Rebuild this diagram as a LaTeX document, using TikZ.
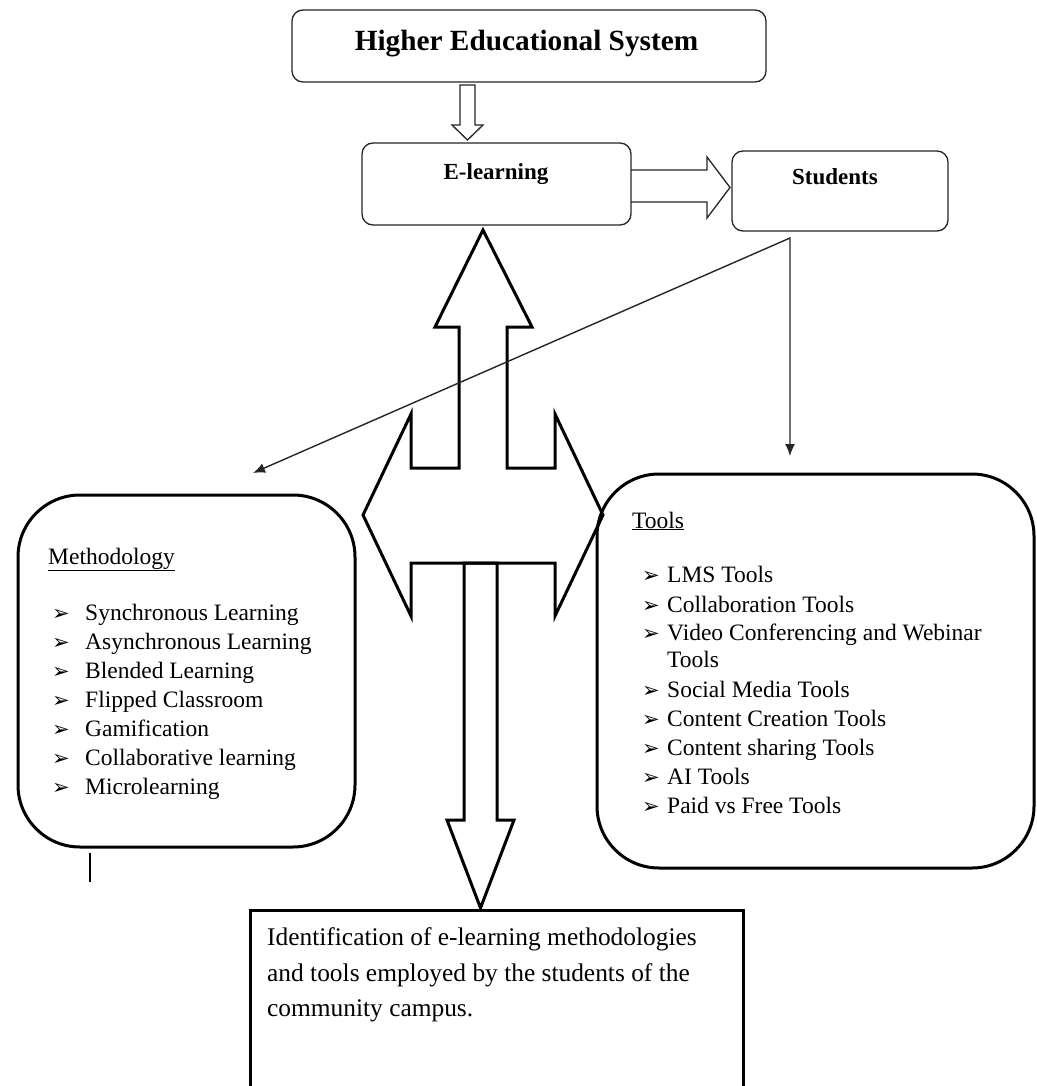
\documentclass[tikz,border=0pt]{standalone}
\usepackage{fontspec}
\setmainfont{Liberation Serif}
\newfontfamily\bulfont{DejaVu Sans}
\usetikzlibrary{arrows.meta}
\newcommand{\bulmark}{{\bulfont\fontsize{21}{21}\selectfont ➢}}
\begin{document}
\begin{tikzpicture}[x=1pt,y=-1pt,
  thinbox/.style={draw=black!85, line width=1.3pt, rounded corners=11pt, inner sep=0pt},
  bigbox/.style={draw=black, line width=3pt, rounded corners=62pt, inner sep=0pt},
  sqbox/.style={draw=black, line width=3pt, inner sep=0pt},
  blockthick/.style={draw=black, line width=3pt, line join=miter},
  blockthin/.style={draw=black!85, line width=1.3pt, line join=miter},
  conn/.style={draw=black!85, line width=1.4pt, line join=miter},
  txt/.style={anchor=base west, inner sep=0pt, font=\fontsize{23.5}{29}\selectfont},
  bigtxt/.style={anchor=base west, inner sep=0pt, font=\fontsize{25.4}{35.5}\selectfont},
  headtxt/.style={anchor=base, inner sep=0pt, font=\bfseries\fontsize{23}{28}\selectfont}
]
\clip (0,0) rectangle (1036,1086);
\fill[white] (0,0) rectangle (1036,1086);

% boxes
\node[thinbox, minimum width=474pt, minimum height=72pt] (hes) at (529,46) {};
\node[anchor=base, inner sep=0pt, font=\bfseries\fontsize{29.3}{35}\selectfont] (hest) at (526.5,51) {Higher Educational System};

\node[thinbox, minimum width=269pt, minimum height=82pt] (el) at (496.5,184) {};
\node[headtxt] (elt) at (496,180) {E-learning};

\node[thinbox, minimum width=216pt, minimum height=80pt] (st) at (840,191) {};
\node[headtxt] (stt) at (835,185) {Students};

\node[bigbox, minimum width=337pt, minimum height=352pt] (meth) at (186.5,671) {};
\node[sqbox, minimum width=493pt, minimum height=200pt] (concl) at (496.5,1010) {};
\node[bigbox, minimum width=437pt, minimum height=394pt] (tools) at (815.5,671) {};

% block arrow: Higher Educational System -> E-learning
\draw[blockthin] (460,85) -- (475,85) -- (475,125) -- (483,125) -- (467.5,140) -- (452,125) -- (460,125) -- cycle;
% block arrow: E-learning -> Students
\draw[blockthin] (631,170) -- (707,170) -- (707,157) -- (730,187.5) -- (707,218) -- (707,202) -- (631,202);

% down block arrow to conclusion
\draw[blockthick] (464,563) -- (497,563) -- (497,820) -- (514,820) -- (480.5,908) -- (447,820) -- (464,820) -- cycle;
% up-left-right block arrow
\draw[blockthick] (483,230) -- (532,327) -- (507,327) -- (507,468) -- (555,468) -- (555,414)
  -- (603,515) -- (555,616) -- (555,563) -- (411,563) -- (411,616) -- (363,515) -- (411,414)
  -- (411,468) -- (459,468) -- (459,327) -- (435,327) -- cycle;

% connectors from Students
\coordinate (sf) at (790,238);
\coordinate (mtip) at (253,473);
\coordinate (ttip) at (790,456);
\draw[conn, {Latex[length=12pt,width=10pt]}-{Latex[length=12pt,width=10pt]}] (mtip) -- (sf) -- (ttip);

% stray mark
\draw[line width=1.2pt] (90,853) -- (90,882);

% Methodology text
\node[txt] (mh) at (48,564) {\underline{Methodology}};
\foreach \t [count=\i] in {Synchronous Learning, Asynchronous Learning, Blended Learning, Flipped Classroom, Gamification, Collaborative learning, Microlearning}
  \node[txt] (m\i) at (52,{620+29*(\i-1)}) {\makebox[33pt][l]{\bulmark}\t};

% Tools text
\node[txt] (th) at (632,528) {\underline{Tools}};
\node[txt] (t1) at (642,582) {\makebox[25pt][l]{\bulmark}LMS Tools};
\node[txt] (t2) at (642,612) {\makebox[25pt][l]{\bulmark}Collaboration Tools};
\node[txt] (t3) at (642,640) {\makebox[25pt][l]{\bulmark}Video Conferencing and Webinar};
\node[txt] (t3b) at (667,667) {Tools};
\node[txt] (t4) at (642,697) {\makebox[25pt][l]{\bulmark}Social Media Tools};
\node[txt] (t5) at (642,726) {\makebox[25pt][l]{\bulmark}Content Creation Tools};
\node[txt] (t6) at (642,755) {\makebox[25pt][l]{\bulmark}Content sharing Tools};
\node[txt] (t7) at (642,784) {\makebox[25pt][l]{\bulmark}AI Tools};
\node[txt] (t8) at (642,813) {\makebox[25pt][l]{\bulmark}Paid vs Free Tools};

% Conclusion text
\node[bigtxt] (c1) at (267,945) {Identification of e-learning methodologies};
\node[bigtxt] (c2) at (267,981) {and tools employed by the students of the};
\node[bigtxt] (c3) at (267,1016) {community campus.};
\end{tikzpicture}
\end{document}
